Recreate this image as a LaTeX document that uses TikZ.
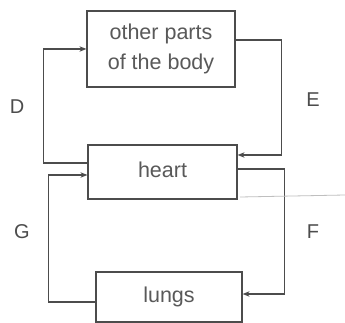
\documentclass[tikz,border=0pt]{standalone}
\usepackage{fontspec}
\setmainfont{Liberation Sans}
\usetikzlibrary{arrows.meta}
\begin{document}
\begin{tikzpicture}[x=1pt,y=-1pt,
  box/.style={draw=black!70,line width=1.2pt,inner sep=0pt,text=black!65,
    font=\fontsize{21.5}{30}\selectfont,align=center},
  conn/.style={draw=black!70,line width=1.2pt,-{Stealth[length=7pt,width=5.5pt]}},
  lbl/.style={text=black!70,font=\fontsize{20}{24}\selectfont}]
\useasboundingbox (0,0) rectangle (345,323);
\fill[white] (0,0) rectangle (345,323);
\node[box,minimum width=148pt,minimum height=76pt] (top) at (161,49) {other parts\\of the body};
\node[box,minimum width=149pt,minimum height=54pt] (heart) at (162.5,172) {\raisebox{5pt}{heart}};
\node[box,minimum width=146pt,minimum height=50pt] (lungs) at (169,297) {\raisebox{3pt}{lungs}};
\draw[conn] ([yshift=9pt]heart.west) -- ++(-44,0) |- (top.west);
\draw[conn] ([yshift=9pt]top.east) -- ++(46,0) |- ([yshift=17pt]heart.east);
\draw[conn] ([yshift=3pt]heart.east) -- ++(47,0) |- ([yshift=3pt]lungs.east);
\draw[conn] ([yshift=-5pt]lungs.west) -- ++(-47,0) |- ([yshift=-3pt]heart.west);
\draw[black!25,line width=0.8pt] (240,197) -- (345,195);
\node[lbl] (D) at (17,107) {D};
\node[lbl] (E) at (313,100) {E};
\node[lbl] (G) at (22,232) {G};
\node[lbl] (F) at (313,232) {F};
\end{tikzpicture}
\end{document}
